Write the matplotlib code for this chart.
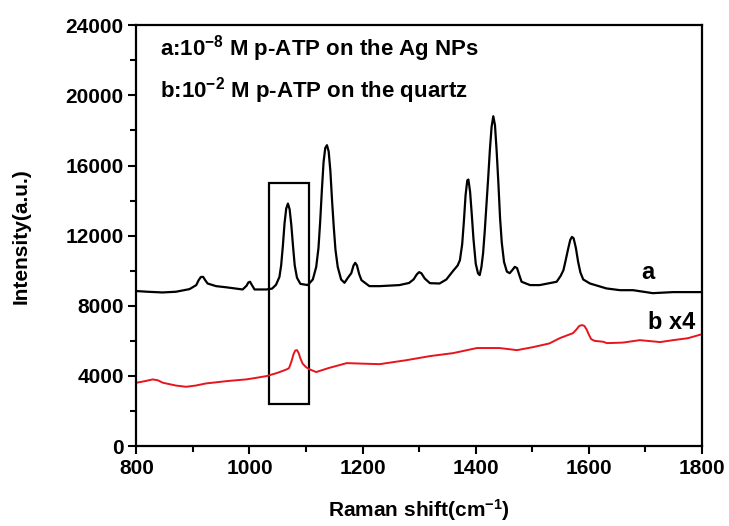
import matplotlib
matplotlib.use("Agg")
import matplotlib.pyplot as plt
from matplotlib.ticker import MultipleLocator
from matplotlib.patches import Rectangle

plt.rcParams['mathtext.fontset'] = 'custom'
plt.rcParams['mathtext.rm'] = 'Liberation Sans:bold'
plt.rcParams['mathtext.bf'] = 'Liberation Sans:bold'
plt.rcParams['mathtext.default'] = 'bf'

# Curve a: 1e-8 M p-ATP on Ag NPs
a_x = [800, 820, 846, 870, 894, 906, 910, 914, 918, 922, 926, 941, 960, 988, 995, 998, 1001, 1004, 1009,
       1030, 1040, 1047, 1053, 1056, 1059, 1062, 1065, 1068, 1071, 1074, 1077, 1080, 1084, 1090, 1103,
       1112, 1118, 1122, 1125, 1128, 1131, 1134, 1137, 1140, 1143, 1146, 1149, 1152, 1156, 1162, 1168,
       1174, 1180, 1184, 1187, 1190, 1194, 1198, 1212, 1230, 1265, 1282, 1290, 1296, 1300, 1304, 1310,
       1319, 1336, 1348, 1360, 1368, 1372, 1376, 1379, 1382, 1385, 1387, 1390, 1393, 1396, 1400, 1404,
       1407, 1410, 1413, 1416, 1419, 1422, 1425, 1428, 1431, 1434, 1437, 1440, 1443, 1446, 1450, 1455,
       1460, 1465, 1469, 1473, 1477, 1481, 1496, 1513, 1543, 1550, 1555, 1559, 1563, 1567, 1570, 1573,
       1577, 1581, 1585, 1590, 1602, 1631, 1655, 1678, 1713, 1749, 1800]
a_y = [8840, 8800, 8760, 8800, 8950, 9180, 9450, 9640, 9650, 9450, 9270, 9120, 9050, 8930, 9150, 9330, 9370, 9200, 8930,
       8930, 8980, 9200, 9650, 10300, 11400, 12700, 13550, 13830, 13500, 12600, 11400, 10300, 9600, 9250, 9180,
       9500, 10220, 11300, 12800, 14600, 16200, 17000, 17160, 16800, 15700, 14000, 12500, 11200, 10220, 9500, 9310,
       9600, 9860, 10300, 10450, 10300, 9800, 9460, 9120, 9120, 9180, 9300, 9500, 9800, 9920, 9850, 9550,
       9290, 9270, 9500, 9990, 10300, 10600, 11500, 12800, 14300, 15150, 15200, 14500, 13200, 11800, 10400, 9850,
       9750, 10200, 11000, 12300, 13800, 15300, 16900, 18200, 18810, 18300, 16800, 15000, 13000, 11600, 10500, 9950,
       9860, 10050, 10220, 10150, 9750, 9370, 9180, 9180, 9370, 9700, 10030, 10600, 11200, 11750, 11930, 11850,
       11300, 10500, 9900, 9500, 9270, 8990, 8890, 8890, 8720, 8780, 8780]

# Curve b: 1e-2 M p-ATP on quartz (x4)
b_x = [800, 815, 829, 838, 847, 870, 888, 905, 923, 945, 965, 994, 1010, 1030, 1048, 1060, 1067,
       1070, 1074, 1078, 1081, 1084, 1087, 1090, 1094, 1100, 1106, 1118, 1140, 1172, 1200, 1230, 1278, 1319,
       1360, 1402, 1442, 1473, 1501, 1530, 1549, 1572, 1578, 1583, 1588, 1592, 1596, 1600, 1604, 1610, 1625,
       1632, 1660, 1690, 1726, 1749, 1775, 1800]
b_y = [3610, 3700, 3800, 3750, 3610, 3450, 3380, 3450, 3570, 3650, 3720, 3800, 3880, 3990, 4160, 4300, 4390,
       4450, 4800, 5250, 5450, 5470, 5300, 5000, 4700, 4500, 4380, 4220, 4450, 4730, 4700, 4670, 4900, 5130,
       5300, 5590, 5590, 5470, 5640, 5850, 6160, 6440, 6650, 6850, 6900, 6850, 6650, 6350, 6100, 6000, 5950,
       5870, 5900, 6040, 5930, 6040, 6150, 6380]

x_ticks = [800, 1000, 1200, 1400, 1600, 1800]
y_ticks = [0, 4000, 8000, 12000, 16000, 20000, 24000]
box_x = [1035, 1106]
box_y = [2400, 15000]

fig = plt.figure(figsize=(7.29, 5.26), dpi=100)
ax = fig.add_axes([0.187, 0.152, 0.776, 0.800])

ax.plot(a_x, a_y, color='black', lw=1.6)
ax.plot(b_x, b_y, color='#e8141c', lw=1.4)

ax.add_patch(Rectangle((box_x[0], box_y[0]), box_x[1] - box_x[0], box_y[1] - box_y[0],
                       fill=False, edgecolor='black', lw=1.6))

ax.set_xlim(800, 1800)
ax.set_ylim(0, 24000)
ax.set_xticks(x_ticks)
ax.set_yticks(y_ticks)
ax.xaxis.set_minor_locator(MultipleLocator(100))
ax.yaxis.set_minor_locator(MultipleLocator(2000))
ax.tick_params(which='both', direction='out', width=1.5, top=False, right=False)
ax.tick_params(which='major', length=6, pad=3)
ax.tick_params(which='minor', length=4)
for s in ax.spines.values():
    s.set_linewidth(1.6)

for lab in ax.get_xticklabels() + ax.get_yticklabels():
    lab.set_fontfamily('Liberation Sans')
    lab.set_fontweight('bold')
    lab.set_fontsize(15)

ax.set_xlabel('Raman shift(cm$^{-1}$)', family='Liberation Sans', fontweight='bold', fontsize=15, labelpad=14)
ax.set_ylabel('Intensity(a.u.)', family='Liberation Sans', fontweight='bold', fontsize=15, labelpad=25)

ax.text(842, 22650, 'a:10$^{-8}$ M p-ATP on the Ag NPs', family='Liberation Sans',
        fontweight='bold', fontsize=16, va='center', ha='left')
ax.text(842, 20250, 'b:10$^{-2}$ M p-ATP on the quartz', family='Liberation Sans',
        fontweight='bold', fontsize=16, va='center', ha='left')
ax.text(1705, 9900, 'a', family='Liberation Sans', fontweight='bold', fontsize=17,
        va='center', ha='center')
ax.text(1788, 7050, 'b x4', family='Liberation Sans', fontweight='bold', fontsize=17,
        va='center', ha='right')

fig.savefig('out.png', dpi=100)
